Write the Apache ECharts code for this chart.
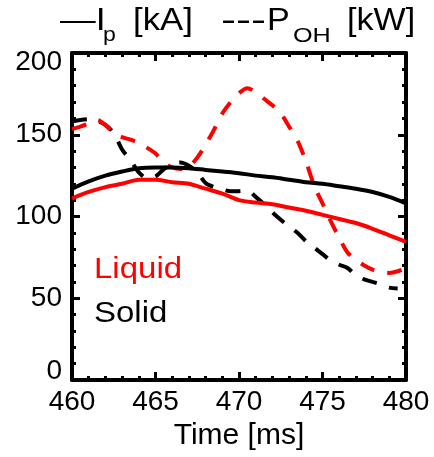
<!DOCTYPE html>
<html>
<head>
<meta charset="utf-8">
<script src="https://cdn.jsdelivr.net/npm/echarts@6/dist/echarts.min.js"></script>
<style>
html,body{margin:0;padding:0;background:#fff;}
#c{width:434px;height:457px;}
</style>
</head>
<body>
<div id="c"></div>
<script>
// ---- data ----
const timeIp = [460,461,462,463,464,465,466,467,468,469,470,471,472,473,474,475,476,477,478,479,480];
const ipLiquid = [111,115,118,120,122.5,122.5,121,120,117,114,110,108.5,107.5,105.5,103.5,101,98.5,96,92.5,88.5,84.5];
const ipSolid  = [117,121.5,125,127.5,129.5,130,130,129.5,128.5,127.5,126.5,125,124,122.5,121,120,118.5,117,115,112,108];

const timePLiquid = [460,460.5,461,461.5,462,462.5,463,463.5,464,464.5,465,465.5,466,466.5,467,467.5,468,468.5,469,469.5,470,470.5,471,471.5,472,472.5,473,473.5,474,474.5,475,475.5,476,476.5,477,477.5,478,478.5,479,479.5,480];
const pLiquid = [153.5,155,157,159,156,151,148.5,147,145,142,138.5,133,130,129,130.5,136,144,153,163,170,175.5,178.5,176,172,168,163,155,146.5,134,119,108,97,87,78,73.5,70,67.5,66,65.5,66.5,68.5];

const timePSolid = [460,460.5,461,461.5,462,462.5,463,463.5,464,464.5,465,465.5,466,466.5,467,467.5,468,468.5,469,469.5,470,470.5,471,471.5,472,472.5,473,473.5,474,474.5,475,475.5,476,476.5,477,477.5,478,478.5,479,479.5];
const pSolid = [158,159,159.5,158.5,156,151,141,134.5,127,123.5,124.5,129,132,133,131,127,120.5,118,116.5,115.5,115.5,116,112,107.5,102.5,98,94,90,85,81,77,73,70.5,68.5,64,61.5,60,58.5,56.5,56];

const xTicks = {min: 460, max: 480, step: 5};
const yTicks = {min: 0, max: 200, step: 50};

function zip(t, v) { return t.map((x, i) => [x, v[i]]); }

const FONT = "'Liberation Sans', Arial, Helvetica, sans-serif";
const chart = echarts.init(document.getElementById('c'), null, {renderer: 'canvas'});

const tickCommon = {
  axisLine: {show: true, onZero: false, lineStyle: {color: '#000', width: 4}},
  axisTick: {show: true, inside: true, length: 8, lineStyle: {color: '#000', width: 3}},
  minorTick: {show: true, splitNumber: 5, length: 4, lineStyle: {color: '#000', width: 3}},
  splitLine: {show: false},
  minorSplitLine: {show: false}
};

function txt(x, y, s, size, sx, color) {
  return {type: 'text', x: x, y: y, scaleX: sx,
    style: {text: s, fontSize: size, fontFamily: FONT, fill: color || '#000', verticalAlign: 'middle'}};
}

const option = {
  animation: false,
  backgroundColor: '#fff',
  grid: {left: 72, right: 28, top: 53, bottom: 77, containLabel: false},
  xAxis: [
    Object.assign({
      type: 'value', min: xTicks.min, max: xTicks.max, interval: xTicks.step, position: 'bottom',
      axisLabel: {fontSize: 28, color: '#000', fontFamily: FONT, margin: 8},
      name: 'Time [ms]', nameLocation: 'middle', nameGap: 32,
      nameTextStyle: {fontSize: 30, color: '#000', fontFamily: FONT}
    }, tickCommon),
    Object.assign({
      type: 'value', min: xTicks.min, max: xTicks.max, interval: xTicks.step, position: 'top',
      axisLabel: {show: false}
    }, tickCommon)
  ],
  yAxis: [
    Object.assign({
      type: 'value', min: yTicks.min, max: yTicks.max, interval: yTicks.step, position: 'left',
      axisLabel: {
        fontSize: 28, color: '#000', fontFamily: FONT, margin: 10,
        formatter: function (v) {
          if (v === 200) return '{t|200}';
          if (v === 0) return '{b|0}';
          return String(v);
        },
        rich: {
          t: {fontSize: 28, color: '#000', fontFamily: FONT, padding: [19, 0, 0, 0]},
          b: {fontSize: 28, color: '#000', fontFamily: FONT, padding: [0, 0, 17, 0]}
        }
      }
    }, tickCommon),
    Object.assign({
      type: 'value', min: yTicks.min, max: yTicks.max, interval: yTicks.step, position: 'right',
      axisLabel: {show: false}
    }, tickCommon)
  ],
  series: [
    {type: 'line', name: 'Ip Solid', data: zip(timeIp, ipSolid), showSymbol: false, smooth: 0.3,
     lineStyle: {color: '#000', width: 4}, z: 3},
    {type: 'line', name: 'Ip Liquid', data: zip(timeIp, ipLiquid), showSymbol: false, smooth: 0.3,
     lineStyle: {color: '#ff0000', width: 4}, z: 3},
    {type: 'line', name: 'POH Solid', data: zip(timePSolid, pSolid), showSymbol: false, smooth: 0.3,
     lineStyle: {color: '#000', width: 4, type: [15, 13]}, z: 2},
    {type: 'line', name: 'POH Liquid', data: zip(timePLiquid, pLiquid), showSymbol: false, smooth: 0.3,
     lineStyle: {color: '#ff0000', width: 4, type: [15, 13]}, z: 2}
  ],
  graphic: [
    txt(60, 21, '—I', 31, 1.15),
    txt(103, 35, 'p', 21, 1.1),
    txt(133, 21, '[kA]', 31, 1.12),
    txt(221, 21, '---', 31, 1.45),
    txt(267, 21, 'P', 31, 1.1),
    txt(293, 36, 'OH', 21, 1.2),
    txt(347, 21, '[kW]', 31, 1.1),
    txt(94, 270, 'Liquid', 30, 1.1, '#ff0000'),
    txt(94, 314, 'Solid', 30, 1.1, '#000')
  ]
};
chart.setOption(option);
</script>
</body>
</html>
